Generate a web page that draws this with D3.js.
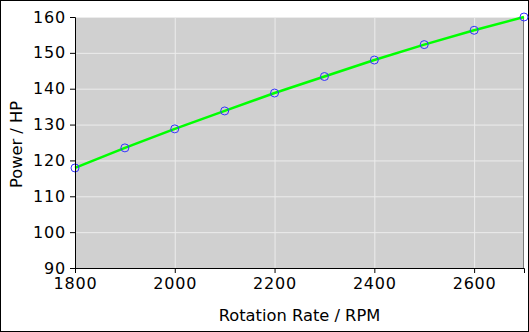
<!DOCTYPE html>
<html>
<head>
<meta charset="utf-8">
<script src="https://cdn.jsdelivr.net/npm/d3@7"></script>
<style>
  body { margin: 0; background: #fff; }
  svg { display: block; font-family: "DejaVu Sans", sans-serif; }
</style>
</head>
<body>
<div id="chart"></div>
<script>
var rpm = [1800, 1900, 2000, 2100, 2200, 2300, 2400, 2500, 2600, 2700];
var power = [117.9, 123.5, 128.8, 133.8, 138.8, 143.4, 148.0, 152.3, 156.3, 160.0];
var xTicks = [1800, 2000, 2200, 2400, 2600];
var yTicks = [90, 100, 110, 120, 130, 140, 150, 160];

var W = 529, H = 332;
var margin = {top: 17, right: 5, bottom: 64, left: 75},
    width = W - margin.left - margin.right,
    height = H - margin.top - margin.bottom;

var svg = d3.select("#chart").append("svg")
    .attr("width", W)
    .attr("height", H);

// outer frame
svg.append("rect")
    .attr("x", 0.5).attr("y", 0.5)
    .attr("width", W - 1).attr("height", H - 1)
    .attr("fill", "#fff").attr("stroke", "#000");

var g = svg.append("g")
    .attr("transform", "translate(" + margin.left + "," + margin.top + ")");

var x = d3.scaleLinear().domain([1800, 2700]).range([0, width]);
var y = d3.scaleLinear().domain([90, 160]).range([height, 0]);

g.append("rect")
    .attr("width", width).attr("height", height)
    .attr("fill", "#d0d0d0");

// grid
g.selectAll(".gx").data(xTicks.slice(1))
  .enter().append("line")
    .attr("x1", d => x(d) + 0.5).attr("x2", d => x(d) + 0.5)
    .attr("y1", 0).attr("y2", height)
    .attr("stroke", "#ececec").attr("stroke-width", 1);
g.selectAll(".gy").data(yTicks.slice(1))
  .enter().append("line")
    .attr("y1", d => y(d) + 0.5).attr("y2", d => y(d) + 0.5)
    .attr("x1", 0).attr("x2", width)
    .attr("stroke", "#ececec").attr("stroke-width", 1);

// right edge
g.append("line")
    .attr("x1", width - 0.5).attr("x2", width - 0.5)
    .attr("y1", 0).attr("y2", height)
    .attr("stroke", "#777");

// line + markers
var pts = rpm.map((r, i) => [r, power[i]]);
g.append("path")
    .datum(pts)
    .attr("fill", "none")
    .attr("stroke", "#00ff00")
    .attr("stroke-width", 2.5)
    .attr("d", d3.line().x(d => x(d[0])).y(d => y(d[1])));

g.selectAll(".pt").data(pts)
  .enter().append("circle")
    .attr("cx", d => x(d[0])).attr("cy", d => y(d[1]))
    .attr("r", 4)
    .attr("fill", "none")
    .attr("stroke", "#3333ff")
    .attr("stroke-width", 1);

// axes
var xa = g.append("g")
    .attr("transform", "translate(0," + height + ")")
    .call(d3.axisBottom(x).tickValues(xTicks).tickFormat(d3.format("d")).tickSizeOuter(0).tickSize(5).tickPadding(5));
var ya = g.append("g")
    .call(d3.axisLeft(y).tickValues(yTicks).tickSizeOuter(0).tickSize(5).tickPadding(4));

[xa, ya].forEach(a => {
  a.select(".domain").attr("stroke", "#000");
  a.selectAll(".tick line").attr("stroke", "#000");
  a.selectAll("text").attr("font-size", "16px").attr("fill", "#000")
    .attr("font-family", "DejaVu Sans").attr("letter-spacing", "0.8px");
});

svg.append("text")
    .attr("x", margin.left + width / 2).attr("y", 321)
    .attr("text-anchor", "middle")
    .attr("font-size", "16.3px")
    .text("Rotation Rate / RPM");

svg.append("text")
    .attr("transform", "translate(22," + (margin.top + height / 2 + 2) + ") rotate(-90)")
    .attr("text-anchor", "middle")
    .attr("font-size", "16.3px")
    .text("Power / HP");
</script>
</body>
</html>
